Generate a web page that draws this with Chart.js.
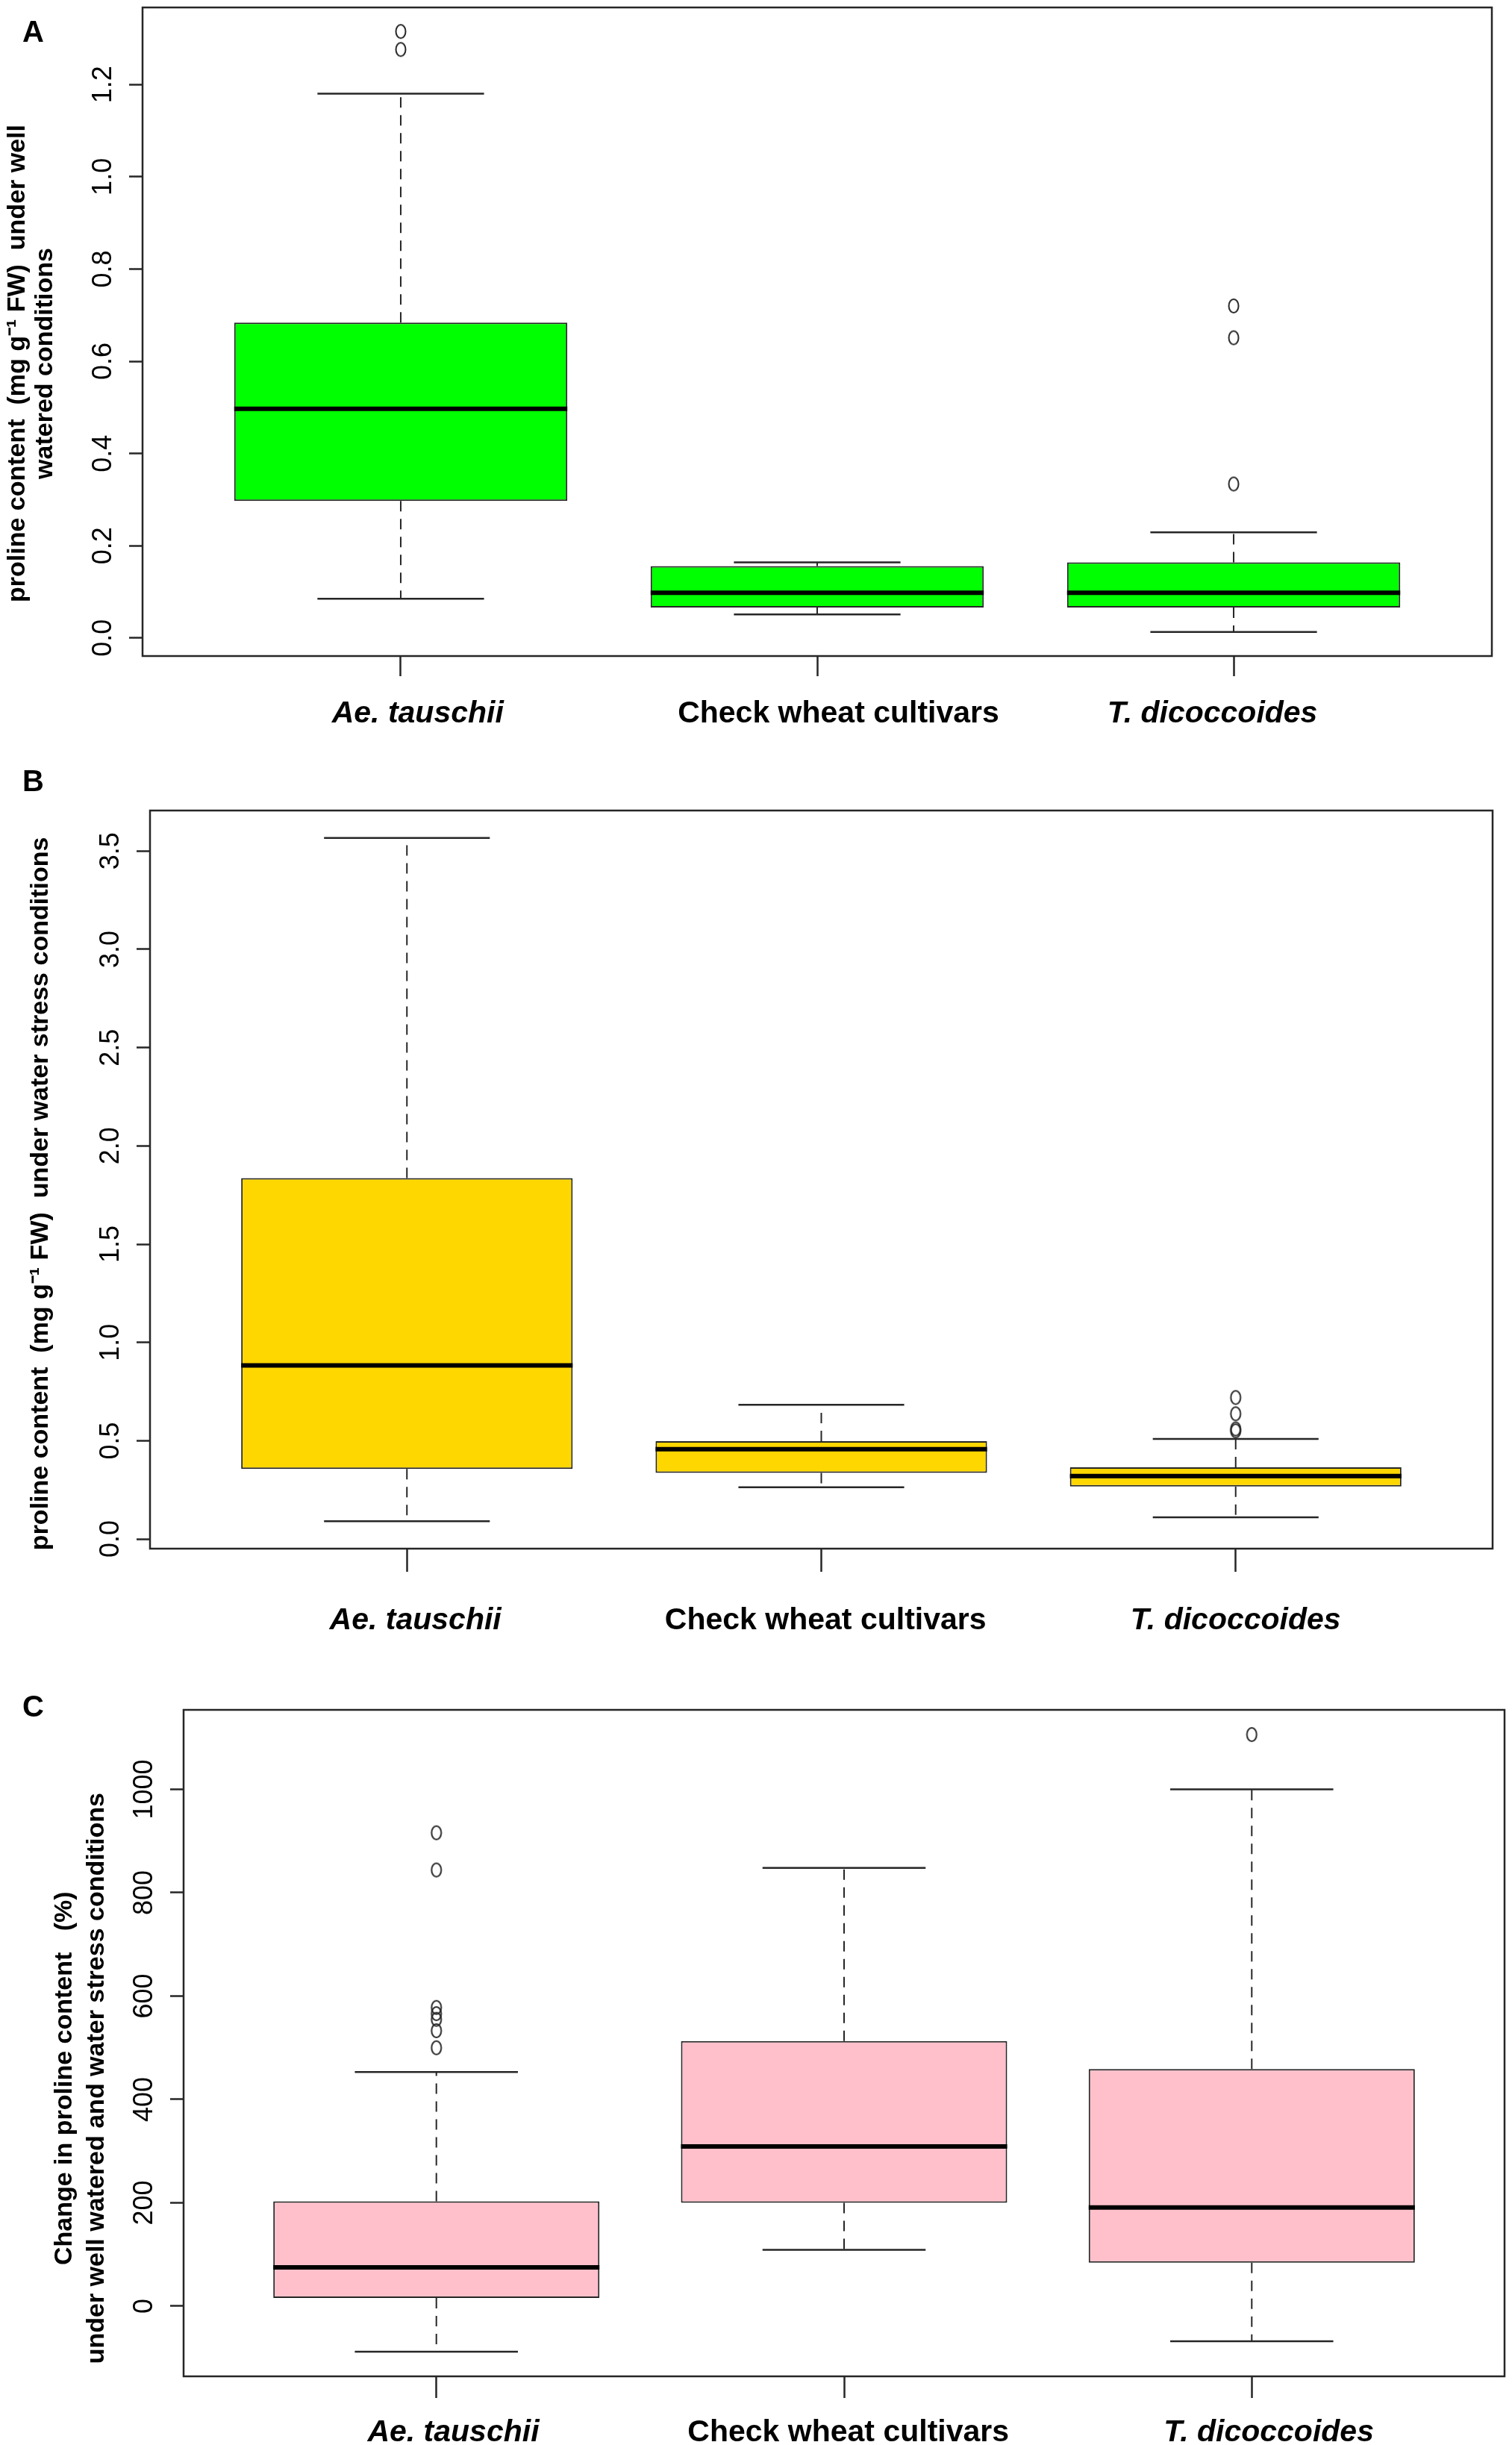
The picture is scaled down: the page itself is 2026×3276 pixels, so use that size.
<!DOCTYPE html>
<html lang="en">
<head>
<meta charset="UTF-8">
<title>Proline content boxplots</title>
<style>
  body { margin: 0; background: #fff; width: 2026px; height: 3276px; position: relative; overflow: hidden;
         font-family: "Liberation Sans", Arial, sans-serif; }
  .panel { position: absolute; left: 0; width: 2026px; }
  .tag { position: absolute; left: 30px; font-weight: bold; font-size: 40px; line-height: 40px; color: #000; }
</style>
</head>
<body>
<div class="panel" style="top:0;height:1000px"><canvas id="chartA"></canvas></div>
<div class="panel" style="top:1000px;height:1200px"><canvas id="chartB"></canvas></div>
<div class="panel" style="top:2200px;height:1076px"><canvas id="chartC"></canvas></div>
<div class="tag" style="top:22px">A</div>
<div class="tag" style="top:1026px">B</div>
<div class="tag" style="top:2266px">C</div>

<script src="https://cdn.jsdelivr.net/npm/chart.js@4"></script>
<script>
const groups = ["Ae. tauschii", "Check wheat cultivars", "T. dicoccoides"];

// A - well watered (mg g-1 FW)
const wellLow = [0.085, 0.051, 0.013];
const wellQ1 = [0.297, 0.066, 0.066];
const wellMedian = [0.497, 0.098, 0.098];
const wellQ3 = [0.684, 0.156, 0.164];
const wellHigh = [1.18, 0.164, 0.229];
const wellOutliers = [[1.276, 1.315], [], [0.334, 0.651, 0.72]];

// B - water stress (mg g-1 FW)
const stressLow = [0.09, 0.263, 0.11];
const stressQ1 = [0.356, 0.336, 0.267];
const stressMedian = [0.883, 0.457, 0.32];
const stressQ3 = [1.836, 0.498, 0.365];
const stressHigh = [3.567, 0.683, 0.509];
const stressOutliers = [[], [], [0.55, 0.56, 0.637, 0.72]];

// C - change (%)
const changeLow = [-88, 109, -68];
const changeQ1 = [16, 200, 84];
const changeMedian = [75, 309, 191];
const changeQ3 = [203, 513, 459];
const changeHigh = [453, 848, 1000];
const changeOutliers = [[500, 533, 555, 566, 578, 844, 916], [], [1106]];

const FONT = '"Liberation Sans", Arial, sans-serif';
const LINE = '#262626';

// R draws its open circles a bit taller than wide in this figure
const ring = document.createElement('canvas');
ring.width = 18; ring.height = 24;
(function () {
  const c = ring.getContext('2d');
  c.strokeStyle = LINE;
  c.lineWidth = 2;
  c.beginPath();
  c.ellipse(9, 12, 6.5, 9, 0, 0, Math.PI * 2);
  c.stroke();
})();

// whiskers, staples, medians and the box frame, placed with the chart scales
const boxParts = {
  id: 'boxParts',
  afterDatasetsDraw(chart, args, opts) {
    const {ctx, chartArea, scales: {x, y}} = chart;
    const s = opts.stats;
    const bars = chart.getDatasetMeta(0).data;
    ctx.save();
    bars.forEach((bar, i) => {
      const cx = x.getPixelForValue(i + 1);
      const half = bar.width / 2;
      ctx.strokeStyle = LINE;
      ctx.lineWidth = 2;
      ctx.setLineDash([14, 10]);
      ctx.beginPath();
      ctx.moveTo(cx, y.getPixelForValue(s.q3[i]));
      ctx.lineTo(cx, y.getPixelForValue(s.high[i]));
      ctx.moveTo(cx, y.getPixelForValue(s.q1[i]));
      ctx.lineTo(cx, y.getPixelForValue(s.low[i]));
      ctx.stroke();
      ctx.setLineDash([]);
      ctx.lineWidth = 2.5;
      ctx.beginPath();
      [s.high[i], s.low[i]].forEach(v => {
        const py = y.getPixelForValue(v);
        ctx.moveTo(cx - half / 2, py);
        ctx.lineTo(cx + half / 2, py);
      });
      ctx.stroke();
      ctx.strokeStyle = '#000';
      ctx.lineWidth = 6;
      ctx.beginPath();
      const pm = y.getPixelForValue(s.median[i]);
      ctx.moveTo(cx - half, pm);
      ctx.lineTo(cx + half, pm);
      ctx.stroke();
    });
    ctx.strokeStyle = LINE;
    ctx.lineWidth = 2.5;
    ctx.strokeRect(chartArea.left, chartArea.top, chartArea.width, chartArea.height);
    ctx.restore();
  }
};

// blanks before (>0) or after (<0) a label move it off its tick, as the figure has them
function padLabel(text, n) {
  return n > 0 ? ' '.repeat(n) + text : text + ' '.repeat(-n);
}

function makePanel(id, s, fill, step, digits, title, L) {
  const all = s.low.concat(s.high, s.outliers.flat());
  const lo = Math.min(...all), hi = Math.max(...all);
  const pad = 0.04 * (hi - lo);
  const xPad = 0.04 * groups.length;

  const boxes = groups.map((g, i) => ({x: i + 1, y: [s.q1[i], s.q3[i]]}));
  const points = [];
  s.outliers.forEach((list, i) => list.forEach(v => points.push({x: i + 1, y: v})));

  // trailing blanks nudge the centred axis title down, as in the original figure
  const shift = ' '.repeat(L.titleShift);
  const titleText = [].concat(title).map(t => t + shift);

  return new Chart(document.getElementById(id), {
    type: 'bar',
    data: {
      datasets: [
        {
          type: 'bar', data: boxes, backgroundColor: fill, borderColor: LINE,
          borderWidth: 2, borderSkipped: false, barPercentage: 0.8, categoryPercentage: 1
        },
        {
          type: 'scatter', data: points, pointStyle: ring, pointRadius: 9,
          borderColor: LINE, backgroundColor: 'rgba(0,0,0,0)', showLine: false
        }
      ]
    },
    options: {
      responsive: true,
      maintainAspectRatio: false,
      animation: false,
      layout: {padding: {top: L.padTop, right: L.padRight, left: 0, bottom: 0}},
      plugins: {legend: {display: false}, tooltip: {enabled: false}, boxParts: {stats: s}},
      scales: {
        x: {
          type: 'linear',
          min: 0.5 - xPad,
          max: groups.length + 0.5 + xPad,
          offset: false,
          afterBuildTicks: sc => { sc.ticks = groups.map((g, i) => ({value: i + 1})); },
          afterFit: sc => { sc.height = L.xHeight; sc.paddingLeft = 0; sc.paddingRight = 0; },
          ticks: {
            autoSkip: false, maxRotation: 0, color: '#000', padding: L.xPad,
            callback: (v, i) => padLabel(groups[i], L.labelShift[i]),
            font: c => ({family: FONT, size: 41, weight: 'bold', style: c.index === 1 ? 'normal' : 'italic'})
          },
          grid: {drawOnChartArea: false, offset: false, tickLength: L.xTick, tickWidth: 2.5, tickColor: LINE},
          border: {display: false}
        },
        y: {
          type: 'linear',
          min: lo - pad,
          max: hi + pad,
          afterFit: sc => { sc.width = L.yWidth; sc.paddingTop = 0; sc.paddingBottom = 0; },
          ticks: {
            stepSize: step, includeBounds: false, autoSkip: false,
            minRotation: 90, maxRotation: 90, crossAlign: 'center', padding: L.yPad,
            color: '#000', font: {family: FONT, size: 36},
            callback: v => v.toFixed(digits)
          },
          grid: {drawOnChartArea: false, tickLength: 18, tickWidth: 2.5, tickColor: LINE},
          border: {display: false},
          title: {
            display: true, text: titleText, color: '#000',
            font: {family: FONT, size: 34, weight: 'bold', lineHeight: L.titleLH},
            padding: {top: L.titlePad, bottom: 0}
          }
        }
      }
    },
    plugins: [boxParts]
  });
}

makePanel('chartA',
  {low: wellLow, q1: wellQ1, median: wellMedian, q3: wellQ3, high: wellHigh, outliers: wellOutliers},
  '#00ff00', 0.2, 1,
  ['proline content  (mg g\u207B\u00B9 FW)  under well', 'watered conditions'],
  {padTop: 5, padRight: 27, yWidth: 191, xHeight: 121, xTick: 27, xPad: 26, yPad: 9,
   titlePad: 5, titleLH: 1.1, titleShift: 9, labelShift: [4, 5, -5]});

makePanel('chartB',
  {low: stressLow, q1: stressQ1, median: stressMedian, q3: stressQ3, high: stressHigh, outliers: stressOutliers},
  '#ffd700', 0.5, 1,
  'proline content  (mg g\u207B\u00B9 FW)  under water stress conditions',
  {padTop: 86, padRight: 26, yWidth: 201, xHeight: 125, xTick: 31, xPad: 41, yPad: 9,
   titlePad: 36, titleLH: 1.1, titleShift: 4, labelShift: [2, 1, 0]});

makePanel('chartC',
  {low: changeLow, q1: changeQ1, median: changeMedian, q3: changeQ3, high: changeHigh, outliers: changeOutliers},
  '#ffc0cb', 200, 0,
  ['Change in proline content   (%)', 'under well watered and water stress conditions'],
  {padTop: 91, padRight: 10, yWidth: 246, xHeight: 92, xTick: 29, xPad: 22, yPad: -6,
   titlePad: 66, titleLH: 1.24, titleShift: 10, labelShift: [4, 1, 4]});
</script>
</body>
</html>
